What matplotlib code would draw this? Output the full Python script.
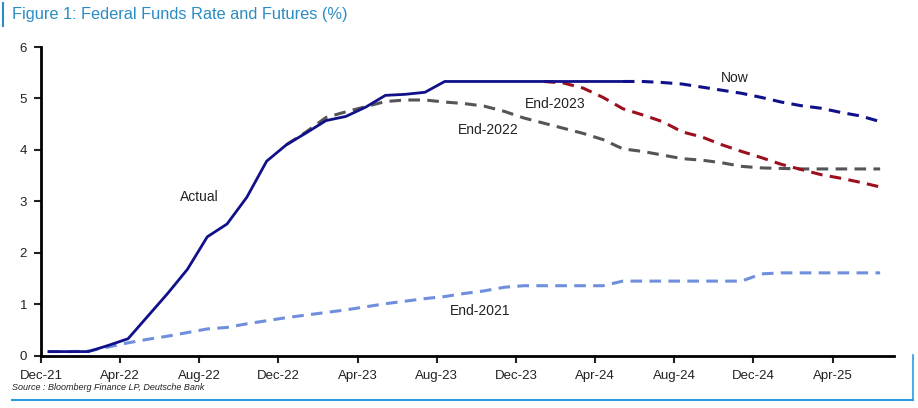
import numpy as np
import matplotlib.pyplot as plt
from matplotlib.lines import Line2D

plt.rcParams['font.family'] = ['Liberation Sans', 'DejaVu Sans']

# Month labels on the x axis (every 4 months from Dec-21)
tick_labels = ['Dec-21', 'Apr-22', 'Aug-22', 'Dec-22', 'Apr-23', 'Aug-23',
               'Dec-23', 'Apr-24', 'Aug-24', 'Dec-24', 'Apr-25']

# Actual fed funds rate, Dec-21 .. May-24 (monthly)
actual = [0.08, 0.08, 0.08, 0.20, 0.33, 0.77, 1.21, 1.68, 2.31, 2.56,
          3.08, 3.78, 4.10, 4.33, 4.57, 4.65, 4.83, 5.06, 5.08, 5.12,
          5.33, 5.33, 5.33, 5.33, 5.33, 5.33, 5.33, 5.33, 5.33, 5.33]

# Futures curve at end-2021, Dec-21 .. Jun-25
end_2021 = [0.08, 0.08, 0.09, 0.17, 0.25, 0.32, 0.38, 0.45, 0.52, 0.55,
            0.62, 0.68, 0.74, 0.79, 0.84, 0.89, 0.95, 1.01, 1.06, 1.11,
            1.15, 1.21, 1.26, 1.33, 1.36, 1.36, 1.36, 1.36, 1.36, 1.45,
            1.45, 1.45, 1.45, 1.45, 1.45, 1.45, 1.59, 1.61, 1.61, 1.61,
            1.61, 1.61, 1.61]

# Futures curve at end-2022, Dec-22 .. Jun-25
end_2022 = [4.10, 4.35, 4.63, 4.74, 4.84, 4.94, 4.97, 4.97, 4.93, 4.90,
            4.85, 4.75, 4.62, 4.52, 4.42, 4.32, 4.20, 4.02, 3.97, 3.90,
            3.83, 3.80, 3.75, 3.68, 3.65, 3.64, 3.63, 3.63, 3.63, 3.63,
            3.63]

# Futures curve at end-2023, Jan-24 .. Jun-25
end_2023 = [5.33, 5.30, 5.20, 5.02, 4.80, 4.68, 4.55, 4.35, 4.25, 4.10,
            3.97, 3.85, 3.72, 3.62, 3.52, 3.45, 3.37, 3.28]

# Futures curve now, May-24 .. Jun-25
now = [5.33, 5.33, 5.31, 5.28, 5.22, 5.16, 5.10, 5.02, 4.93, 4.86,
       4.81, 4.73, 4.66, 4.55]

start_2022 = 12
start_2023 = 25
start_now = 29
offset = 0.4  # points sit mid-month

fig = plt.figure(figsize=(9.18, 4.08), dpi=100)
ax = fig.add_axes([41 / 918, 1 - 355.7 / 408, (894 - 41) / 918, (355.7 - 47) / 408])

navy = '#10108a'
dash = (0, (3.8, 2.4))

ax.plot(np.arange(len(end_2021)) + offset, end_2021, color='#6f8fdc', lw=2.2, linestyle=dash)
ax.plot(np.arange(len(end_2022)) + start_2022 + offset, end_2022, color='#555559', lw=2.2, linestyle=dash)
ax.plot(np.arange(len(end_2023)) + start_2023 + offset, end_2023, color='#9b0f1e', lw=2.2, linestyle=dash)
ax.plot(np.arange(len(now)) + start_now + offset, now, color=navy, lw=2.2, linestyle=dash)
ax.plot(np.arange(len(actual)) + offset, actual, color=navy, lw=2.0)

ax.set_xlim(0, 43.1)
ax.set_ylim(0, 6)
ax.set_xticks(np.arange(len(tick_labels)) * 4)
ax.set_xticklabels(tick_labels)
ax.set_yticks(range(7))

for s in ['top', 'right']:
    ax.spines[s].set_visible(False)
for s in ['left', 'bottom']:
    ax.spines[s].set_linewidth(2)
    ax.spines[s].set_color('black')
ax.tick_params(axis='both', direction='out', length=5, width=1.5, labelsize=9.5, colors='#222222')
ax.tick_params(axis='x', pad=5)
ax.tick_params(axis='y', pad=5)

# Line labels
lab = dict(fontsize=10, color='#222222', ha='center', va='center')
ax.text(8.0, 3.08, 'Actual', **lab)
ax.text(26.0, 4.9, 'End-2023', **lab)
ax.text(22.6, 4.38, 'End-2022', **lab)
ax.text(35.05, 5.4, 'Now', **lab)
ax.text(22.2, 0.87, 'End-2021', **lab)

# Title and source
fig.text(12 / 918, 1 - 15 / 408, 'Figure 1: Federal Funds Rate and Futures (%)',
         fontsize=11.8, color='#2b8cc4', va='center', ha='left')
fig.add_artist(Line2D([3 / 918, 3 / 918], [1 - 3 / 408, 1 - 26 / 408], color='#2b8cc4', lw=1.5))
fig.text(12 / 918, 1 - 387 / 408, 'Source : Bloomberg Finance LP, Deutsche Bank',
         fontsize=6.5, style='italic', color='#222222', va='center', ha='left')
fig.add_artist(Line2D([12 / 918, 913 / 918], [1 - 400 / 408, 1 - 400 / 408], color='#2b9ce0', lw=1.5))
fig.add_artist(Line2D([913 / 918, 913 / 918], [1 - 400 / 408, 1 - 355 / 408], color='#2b9ce0', lw=1.2))

fig.savefig('out.png', dpi=100)
